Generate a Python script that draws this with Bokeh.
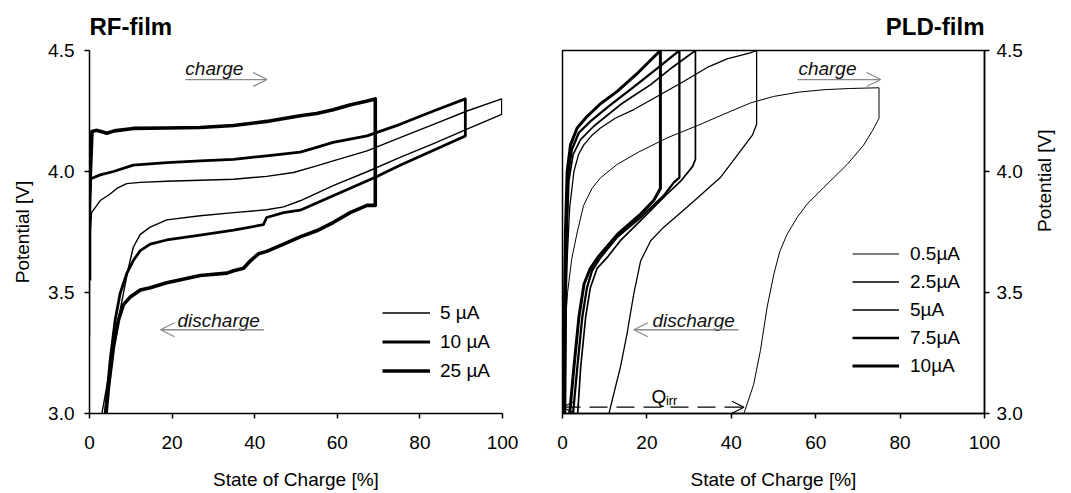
import math

from bokeh.plotting import figure
from bokeh.layouts import row
from bokeh.models import Legend, LegendItem, Arrow, OpenHead, Label, Title
from bokeh.embed import file_html
from bokeh.resources import INLINE

FONT = "Liberation Sans"
ARROW_GREY = "#8a8a8a"

# ---------------- RF-film: state of charge [%] vs potential [V] ----------------
rf_5_soc = [0, 0, 0.5, 2.6, 5.0, 6.6, 9.0, 12.3, 18.7, 26.8, 34.9, 42.9, 49.4, 55.0, 59.0,
            67.2, 75.2, 83.3, 91.4, 99.8,
            99.8, 91.4, 83.3, 75.2, 67.2, 59.0, 51.0, 47.0, 42.9, 34.9, 26.8, 18.7, 14.7,
            12.3, 10.6, 9.4, 8.2, 6.6, 5.0, 3.0]
rf_5_v = [3.32, 3.70, 3.83, 3.88, 3.907, 3.93, 3.95, 3.955, 3.96, 3.964, 3.968, 3.98, 3.996, 4.023, 4.044,
          4.085, 4.14, 4.195, 4.25, 4.30,
          4.236, 4.175, 4.115, 4.058, 3.999, 3.942, 3.879, 3.854, 3.842, 3.83, 3.817, 3.80, 3.77,
          3.74, 3.687, 3.60, 3.495, 3.357, 3.19, 3.0]

rf_10_soc = [0, 0.3, 2.6, 5.8, 10.6, 18.7, 26.8, 34.9, 42.9, 51.0, 55.0, 59.0, 67.2, 75.2, 83.3, 91.0,
             91.0, 83.3, 75.2, 69.2, 59.0, 51.0, 47.0, 42.9, 42.1, 34.9, 26.8, 18.7, 14.7, 12.3,
             10.6, 9.0, 7.4, 6.2, 5.0, 3.8]
rf_10_v = [3.84, 3.97, 3.986, 4.0, 4.026, 4.037, 4.044, 4.05, 4.065, 4.08, 4.10, 4.12, 4.147, 4.195, 4.25, 4.30,
           4.147, 4.088, 4.026, 3.976, 3.90, 3.84, 3.83, 3.81, 3.78, 3.758, 3.737, 3.717, 3.70, 3.673,
           3.632, 3.578, 3.495, 3.385, 3.22, 3.0]

rf_25_soc = [0, 0, 0.6, 1.6, 2.8, 4.2, 6.0, 10.6, 18.7, 26.8, 34.9, 42.9, 51.0, 55.0, 59.0, 63.0, 67.0, 69.2,
             69.2, 67.2, 63.1, 59.1, 55.0, 51.0, 47.0, 42.9, 40.9, 38.9, 37.3, 34.9, 33.3, 26.8,
             18.7, 14.7, 12.3, 9.8, 8.2, 7.0, 5.8, 4.6, 4.0]
rf_25_v = [3.55, 3.90, 4.165, 4.17, 4.165, 4.158, 4.168, 4.178, 4.18, 4.182, 4.19, 4.207, 4.23, 4.24, 4.255,
           4.275, 4.29, 4.30,
           3.86, 3.86, 3.83, 3.79, 3.755, 3.73, 3.70, 3.67, 3.66, 3.63, 3.60, 3.59, 3.58, 3.57,
           3.54, 3.52, 3.51, 3.48, 3.45, 3.385, 3.275, 3.11, 3.0]

rf_labels = ["5 µA", "10 µA", "25 µA"]
rf_widths = [1.4, 2.8, 3.6]

# ---------------- PLD-film ----------------
pld_05_soc = [0, 0.4, 1.2, 2.2, 3.5, 5.0, 7.0, 9.0, 13.0, 18.0, 24.8, 32.0, 38.0, 44.5, 50.0, 56.0,
              62.0, 68.0, 75.0,
              75.0, 73.5, 71.4, 67.5, 61.9, 58.0, 55.6, 53.2, 51.5, 50.1, 48.5, 46.9, 45.3, 43.0]
pld_05_v = [3.0, 3.3, 3.5, 3.64, 3.75, 3.86, 3.93, 3.974, 4.03, 4.08, 4.139, 4.19, 4.235, 4.283, 4.31, 4.328,
            4.338, 4.343, 4.346,
            4.22, 4.17, 4.11, 4.03, 3.934, 3.866, 3.81, 3.74, 3.67, 3.577, 3.44, 3.26, 3.12, 3.0]

pld_25_soc = [0, 0.5, 1.0, 1.7, 2.7, 3.8, 5.05, 7.0, 9.0, 12.5, 16.9, 22.4, 28.7, 34.3, 39.0, 44.5, 46.0,
              46.0, 45.0, 42.2, 37.4, 30.3, 24.0, 20.9, 18.5, 16.9, 15.3, 13.7, 11.0]
pld_25_v = [3.0, 3.35, 3.6, 3.85, 4.0, 4.07, 4.11, 4.15, 4.18, 4.22, 4.256, 4.31, 4.372, 4.43, 4.465, 4.49, 4.5,
            4.195, 4.15, 4.085, 3.975, 3.865, 3.77, 3.714, 3.63, 3.495, 3.33, 3.19, 3.0]

pld_5_soc = [0.7, 0.9, 1.1, 1.5, 2.5, 4.27, 7.4, 14.0, 20.9, 26.0, 31.5,
             31.5, 30.8, 28.0, 24.8, 18.5, 13.7, 10.6, 8.2, 6.6, 5.5, 4.3, 3.6]
pld_5_v = [3.0, 3.5, 3.75, 3.96, 4.07, 4.132, 4.187, 4.28, 4.359, 4.43, 4.5,
           4.05, 4.02, 3.96, 3.907, 3.797, 3.714, 3.645, 3.60, 3.52, 3.40, 3.19, 3.0]

pld_75_soc = [0.5, 0.7, 0.9, 1.3, 2.2, 3.87, 6.6, 11.0, 16.9, 22.0, 27.7,
              27.7, 26.4, 24.0, 18.5, 13.0, 9.0, 7.0, 5.8, 4.7, 3.5, 2.5]
pld_75_v = [3.0, 3.5, 3.75, 3.98, 4.09, 4.16, 4.207, 4.27, 4.35, 4.42, 4.5,
            3.975, 3.955, 3.90, 3.81, 3.73, 3.645, 3.59, 3.52, 3.40, 3.19, 3.0]

pld_10_soc = [0.3, 0.5, 0.7, 1.1, 1.9, 3.47, 5.85, 9.0, 12.96, 18.0, 23.2,
              23.2, 22.4, 21.6, 18.5, 13.0, 8.6, 6.6, 5.1, 3.9, 2.7, 1.7]
pld_10_v = [3.0, 3.5, 3.75, 4.0, 4.11, 4.18, 4.228, 4.28, 4.331, 4.41, 4.5,
            3.93, 3.905, 3.88, 3.824, 3.74, 3.65, 3.60, 3.535, 3.40, 3.19, 3.0]

pld_labels = ["0.5µA", "2.5µA", "5µA", "7.5µA", "10µA"]
pld_widths = [1.0, 1.3, 1.7, 2.3, 3.0]

x_ticks = [0, 20, 40, 60, 80, 100]
y_ticks = [3.0, 3.5, 4.0, 4.5]
y_tick_labels = {3.0: "3.0", 3.5: "3.5", 4.0: "4.0", 4.5: "4.5"}

TICK_SIZE = "19px"
LABEL_SIZE = "19px"
NOTE_SIZE = "19px"


def style_axis(ax, label, n_minor):
    ax.axis_label = label
    ax.axis_label_text_font = FONT
    ax.axis_label_text_font_size = LABEL_SIZE
    ax.axis_label_text_font_style = "normal"
    ax.axis_label_text_color = "black"
    ax.major_label_text_font = FONT
    ax.major_label_text_font_size = TICK_SIZE
    ax.major_label_text_color = "black"
    ax.axis_line_color = "black"
    ax.axis_line_width = 1.5
    ax.major_tick_line_color = "black"
    ax.major_tick_line_width = 1.5
    ax.minor_tick_line_color = "black"
    ax.minor_tick_line_width = 1.2
    ax.major_tick_out = 5
    ax.major_tick_in = 0
    ax.minor_tick_out = 0
    ax.minor_tick_in = 4
    ax.ticker.num_minor_ticks = n_minor


def make_panel(width, border_left, border_right, y_loc, title, title_align):
    p = figure(width=width, height=493, x_range=(0, 100), y_range=(3.0, 4.5),
               output_backend="svg", toolbar_location=None, y_axis_location=y_loc,
               min_border_left=border_left, min_border_right=border_right,
               min_border_top=49, min_border_bottom=80)
    p.title = Title(text=title, align=title_align, text_font=FONT, text_font_size="24px",
                    text_font_style="bold", text_color="black", standoff=21)
    p.grid.visible = False
    p.background_fill_color = "white"
    p.border_fill_color = "white"
    p.xaxis.ticker = x_ticks
    p.yaxis.ticker = y_ticks
    p.yaxis.major_label_overrides = y_tick_labels
    return p


def add_arrow_text(p, text, x_text, y_text, x0, x1, y_arrow):
    p.add_layout(Label(x=x_text, y=y_text, text=text, text_font=FONT, text_font_size=NOTE_SIZE,
                       text_font_style="italic", text_color="#111111",
                       text_baseline="alphabetic"))
    p.add_layout(Arrow(end=OpenHead(size=14, line_color=ARROW_GREY, line_width=1.3),
                       x_start=x0, y_start=y_arrow, x_end=x1, y_end=y_arrow,
                       line_color=ARROW_GREY, line_width=1.3))


def add_legend(p, renderers, labels, loc, glyph_w, spacing, standoff):
    items = [LegendItem(label=lab, renderers=[r]) for lab, r in zip(labels, renderers)]
    leg = Legend(items=items, location=loc, glyph_width=glyph_w, glyph_height=23,
                 label_height=23, spacing=spacing, padding=0, margin=0,
                 label_standoff=standoff, label_text_font=FONT, label_text_font_size=NOTE_SIZE,
                 label_text_color="black", border_line_color=None, background_fill_alpha=0)
    p.add_layout(leg)


# ---------------- left panel ----------------
p1 = make_panel(540, 89, 38, "left", "RF-film", "left")
p1.outline_line_color = None
style_axis(p1.xaxis[0], "State of Charge [%]", 5)
style_axis(p1.yaxis[0], "Potential [V]", 2)
p1.xaxis.major_label_standoff = 17
p1.xaxis.axis_label_standoff = 17
p1.yaxis.major_label_standoff = 10
p1.yaxis.axis_label_standoff = 12

rf_series = [(rf_5_soc, rf_5_v), (rf_10_soc, rf_10_v), (rf_25_soc, rf_25_v)]
rf_renderers = []
for (soc, v), w in zip(rf_series, rf_widths):
    rf_renderers.append(p1.line(soc, v, line_color="black", line_width=w, line_join="round"))

add_arrow_text(p1, "charge", 23.2, 4.425, 23.2, 43.0, 4.38)
add_arrow_text(p1, "discharge", 21.3, 3.386, 42.2, 17.2, 3.346)
add_legend(p1, rf_renderers, rf_labels, (293, 31), 48, 6, 10)

# ---------------- right panel ----------------
p2 = make_panel(531, 22, 87, "right", "PLD-film", "right")
p2.outline_line_color = "black"
p2.outline_line_width = 1.5
p2.outline_line_alpha = 1.0
style_axis(p2.xaxis[0], "State of Charge [%]", 5)
style_axis(p2.yaxis[0], "Potential [V]", 5)
p2.xaxis.major_label_standoff = 17
p2.xaxis.axis_label_standoff = 17
p2.yaxis.major_label_standoff = 7
p2.yaxis.axis_label_standoff = 19
p2.yaxis.axis_label_orientation = math.pi / 2

pld_series = [(pld_05_soc, pld_05_v), (pld_25_soc, pld_25_v), (pld_5_soc, pld_5_v),
              (pld_75_soc, pld_75_v), (pld_10_soc, pld_10_v)]
pld_renderers = []
for (soc, v), w in zip(pld_series, pld_widths):
    pld_renderers.append(p2.line(soc, v, line_color="black", line_width=w, line_join="round"))

add_arrow_text(p2, "charge", 55.9, 4.425, 55.7, 75.4, 4.38)
add_arrow_text(p2, "discharge", 21.3, 3.386, 41.7, 16.9, 3.346)
add_legend(p2, pld_renderers, pld_labels, (290, 36), 47, 5, 11)

# irreversible capacity: from 0 % to the end of the slowest discharge
q_irr_end = pld_05_soc[-1]
p2.add_layout(Arrow(start=OpenHead(size=12, line_color="black", line_width=1.2),
                    end=OpenHead(size=12, line_color="black", line_width=1.2),
                    x_start=0.0, y_start=3.026, x_end=q_irr_end, y_end=3.026,
                    line_color="black", line_width=1.3, line_dash="18 9"))
p2.add_layout(Label(x=21.1, y=3.07, text="Q", text_font=FONT, text_font_size=NOTE_SIZE,
                    text_color="black", text_baseline="alphabetic"))
p2.add_layout(Label(x=24.5, y=3.054, text="irr", text_font=FONT, text_font_size="13px",
                    text_color="black", text_baseline="alphabetic"))

layout = row(p1, p2)
open("out.html", "w").write(file_html(layout, INLINE))
